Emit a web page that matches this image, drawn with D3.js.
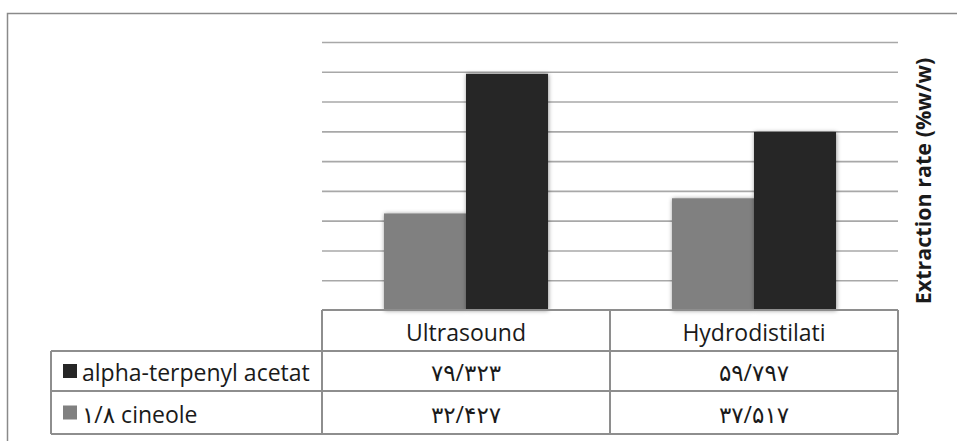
<!DOCTYPE html>
<html>
<head>
<meta charset="utf-8">
<script src="https://cdn.jsdelivr.net/npm/d3@7"></script>
<style>
  html, body { margin: 0; padding: 0; background: #fff; }
  svg { display: block; }
  text { font-family: "Open Sans", "DejaVu Sans", sans-serif; fill: #1a1a1a; }
</style>
</head>
<body>
<svg id="chart" width="957" height="441"></svg>
<script>
// Extraction methods (columns of the data table)
const methods = ["Ultrasound", "Hydrodistilati"];
// Compounds, in the order the bars are drawn (left to right)
const compounds = ["۱/۸ cineole", "alpha-terpenyl acetat"];
// Compounds, in the order the table rows are listed
const tableRows = ["alpha-terpenyl acetat", "۱/۸ cineole"];
// Extraction rate (%w/w) per method
const cineole = [32.427, 37.517];
const terpenylAcetate = [79.323, 59.797];
// Gridline values on the value axis
const gridTicks = [0, 10, 20, 30, 40, 50, 60, 70, 80, 90];
const axisTitle = "Extraction rate (%w/w)";

const seriesValues = {
  "۱/۸ cineole": cineole,
  "alpha-terpenyl acetat": terpenylAcetate
};
const seriesColor = {
  "۱/۸ cineole": "#808080",
  "alpha-terpenyl acetat": "#262626"
};

// Persian digits with "/" as the decimal mark
const faDigits = "۰۱۲۳۴۵۶۷۸۹";
const toPersian = v => v.toFixed(3).replace(".", "/").replace(/[0-9]/g, d => faDigits[+d]);

const svg = d3.select("#chart");
const lineColor = "#8e8e8e";

// Outer frame
svg.append("rect")
  .attr("x", 7.5).attr("y", 13.5)
  .attr("width", 960).attr("height", 440)
  .attr("fill", "none").attr("stroke", "#8a8a8a").attr("stroke-width", 1.5);

// Plot geometry
const plot = { left: 322, right: 898, top: 42, bottom: 310 };

const x = d3.scaleBand().domain(methods).range([plot.left, plot.right]).padding(0);
const xInner = d3.scaleBand().domain(compounds)
  .range([62, x.bandwidth() - 62]).padding(0);
const y = d3.scaleLinear().domain([0, 90]).range([plot.bottom, plot.top]);

// Horizontal gridlines
const grid = svg.append("g")
  .attr("transform", `translate(${plot.left},0)`)
  .call(d3.axisLeft(y).tickValues(gridTicks.filter(t => t > 0))
    .tickSize(-(plot.right - plot.left)).tickFormat(""));
grid.select(".domain").remove();
grid.selectAll(".tick line").attr("stroke", "#a8a8a8").attr("stroke-width", 1.6);

// Soft shadow under the bars
const defs = svg.append("defs");
const f = defs.append("filter").attr("id", "barShadow")
  .attr("x", "-20%").attr("y", "-20%").attr("width", "140%").attr("height", "140%");
f.append("feDropShadow").attr("dx", 0.5).attr("dy", 0.5)
  .attr("stdDeviation", 2.2).attr("flood-color", "#000").attr("flood-opacity", 0.45);

// Bars
const groups = svg.append("g").selectAll("g")
  .data(methods).join("g")
  .attr("transform", d => `translate(${x(d)},0)`);

groups.selectAll("rect")
  .data((m, i) => compounds.map(c => ({ c, v: seriesValues[c][i] })))
  .join("rect")
  .attr("x", d => xInner(d.c))
  .attr("width", xInner.bandwidth())
  .attr("y", d => y(d.v))
  .attr("height", d => y(0) - y(d.v))
  .attr("fill", d => seriesColor[d.c])
  .attr("filter", "url(#barShadow)");

// Value-axis title
svg.append("text")
  .attr("transform", `translate(922,${(plot.top + plot.bottom) / 2 + 5}) rotate(-90)`)
  .attr("text-anchor", "middle")
  .attr("dominant-baseline", "central")
  .attr("font-size", 21.5).attr("font-weight", "bold")
  .text(axisTitle);

// Data table
const table = { left: 51, headTop: 310, rowTops: [351, 391], bottom: 434 };
const tg = svg.append("g").attr("fill", "none").attr("stroke", lineColor).attr("stroke-width", 2);
// header row
tg.append("path").attr("d",
  `M${plot.left},${table.headTop}H${plot.right}` +
  `M${plot.left},${table.headTop}V${table.bottom}` +
  `M${x(methods[1])},${table.headTop}V${table.bottom}` +
  `M${plot.right},${table.headTop}V${table.bottom}`);
// body rows
tg.append("path").attr("d",
  `M${table.left},${table.rowTops[0]}H${plot.right}` +
  `M${table.left},${table.rowTops[1]}H${plot.right}` +
  `M${table.left},${table.bottom}H${plot.right}` +
  `M${table.left},${table.rowTops[0]}V${table.bottom}`);

// Column headers
svg.append("g").selectAll("text")
  .data(methods).join("text")
  .attr("x", d => x(d) + x.bandwidth() / 2)
  .attr("y", (table.headTop + table.rowTops[0]) / 2 + 1)
  .attr("text-anchor", "middle").attr("dominant-baseline", "central")
  .attr("font-size", 23)
  .text(d => d);

const rowCenters = [
  (table.rowTops[0] + table.rowTops[1]) / 2,
  (table.rowTops[1] + table.bottom) / 2
];

// Row labels with legend keys
const rows = svg.append("g").selectAll("g")
  .data(tableRows).join("g")
  .attr("transform", (d, i) => `translate(0,${rowCenters[i]})`);
rows.append("rect")
  .attr("x", 63).attr("y", -7).attr("width", 14).attr("height", 14)
  .attr("fill", d => seriesColor[d]);
rows.append("text")
  .attr("x", 82).attr("y", 1)
  .attr("dominant-baseline", "central")
  .attr("font-size", 23)
  .text(d => d);

// Table values
rows.selectAll("text.val")
  .data(d => methods.map((m, i) => ({ m, v: seriesValues[d][i] })))
  .join("text").attr("class", "val")
  .attr("x", d => x(d.m) + x.bandwidth() / 2)
  .attr("y", 1)
  .attr("text-anchor", "middle").attr("dominant-baseline", "central")
  .attr("font-size", 23)
  .text(d => toPersian(d.v));
</script>
</body>
</html>
